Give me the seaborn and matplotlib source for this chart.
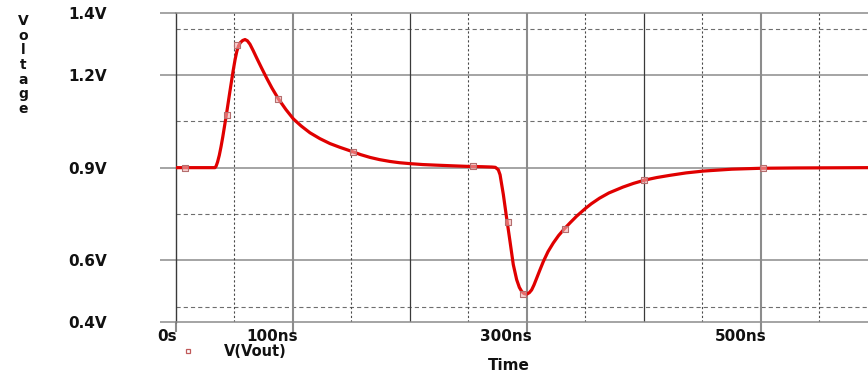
import matplotlib
matplotlib.use("Agg")
import matplotlib.pyplot as plt
from matplotlib.lines import Line2D
from matplotlib.transforms import ScaledTranslation
import pandas as pd
import seaborn as sns

# Transient response of V(Vout)
time_ns = [0, 7, 20, 33.3, 34.3, 35.5, 37, 38.5, 40, 41.5, 43, 46, 48.9, 50.5,
           52, 53.5, 55, 57, 59, 61, 63.2, 66, 69, 73, 77.5, 82, 87.5, 94,
           100.3, 107, 114.5, 123, 131.6, 140, 150, 158, 166, 174, 183, 191,
           200, 211, 223, 236, 250, 262, 270, 273, 275.5, 277, 279.8, 282.6,
           285.5, 288.3, 291.2, 293.5, 295.5, 297.5, 299.7, 302, 304, 306,
           308.3, 311, 314, 318, 322.5, 327, 332, 337, 342.5, 350, 355, 362,
           370, 382, 391, 401, 411, 422, 436, 451, 475, 500, 530, 592]
vout = [0.9, 0.9, 0.9, 0.9, 0.905, 0.918, 0.94, 0.968, 1.0, 1.035, 1.07, 1.145,
        1.215, 1.25, 1.277, 1.295, 1.305, 1.312, 1.315, 1.311, 1.3, 1.279,
        1.255, 1.224, 1.19, 1.158, 1.123, 1.088, 1.058, 1.035, 1.013, 0.994,
        0.978, 0.966, 0.953, 0.942, 0.933, 0.926, 0.92, 0.916, 0.913, 0.91,
        0.908, 0.906, 0.904, 0.903, 0.902, 0.901, 0.893, 0.877, 0.813, 0.737,
        0.661, 0.586, 0.537, 0.512, 0.499, 0.492, 0.49, 0.495, 0.504, 0.52,
        0.542, 0.568, 0.596, 0.628, 0.656, 0.68, 0.702, 0.722, 0.743, 0.768,
        0.783, 0.801, 0.818, 0.837, 0.849, 0.86, 0.868, 0.875, 0.883, 0.889,
        0.895, 0.898, 0.899, 0.9]

# Sample markers placed along the trace
marker_time_ns = [7.7, 43.3, 52.5, 87.5, 151.5, 254, 284.1, 297, 332.5, 400, 502]
marker_vout = [0.9, 1.07, 1.296, 1.121, 0.952, 0.904, 0.725, 0.49, 0.701, 0.861, 0.899]

x_tick_values = [0, 100, 300, 500]
x_tick_labels = ["0s", "100ns", "300ns", "500ns"]
y_tick_values = [0.4, 0.6, 0.9, 1.2, 1.4]
y_tick_labels = ["0.4V", "0.6V", "0.9V", "1.2V", "1.4V"]
y_grid_major = [0.6, 0.9, 1.2]
y_grid_minor = [0.45, 0.75, 1.05, 1.35]
x_grid_gray = [100, 300, 500]
x_grid_dark = [200, 400]
x_grid_dotted = [50, 150, 250, 350, 450, 550]

sns.set_style("white")
plt.rcParams["font.family"] = ["DejaVu Sans"]
plt.rcParams["lines.scale_dashes"] = False

W, H = 868, 372
fig = plt.figure(figsize=(W / 100, H / 100), dpi=100)
ax = fig.add_axes([176 / W, 1 - 322 / H, (W - 176) / W, (322 - 13.3) / H])
ax.set_xlim(0, 591.5)
ax.set_ylim(0.4, 1.4)

grid_gray = "#8c8c8c"
for y in y_grid_major:
    ax.axhline(y, color=grid_gray, lw=1.1, zorder=1)
for y in y_grid_minor:
    ax.axhline(y, color="#6e6e6e", lw=0.8, ls=(0, (3.0, 2.2)), zorder=1)
for x in x_grid_gray:
    ax.axvline(x, color=grid_gray, lw=1.5, zorder=1)
for x in x_grid_dark:
    ax.axvline(x, color="#3a3a3a", lw=0.9, zorder=1)
for x in x_grid_dotted:
    ax.axvline(x, color="#4a4a4a", lw=0.8, ls=(0, (1.6, 1.6)), zorder=1)

trace = pd.DataFrame({"time": time_ns, "vout": vout})
sns.lineplot(data=trace, x="time", y="vout", sort=False, color="#e00000",
             lw=2.3, ax=ax, zorder=3, solid_joinstyle="round",
             solid_capstyle="round")
sns.scatterplot(x=marker_time_ns, y=marker_vout, marker="s", s=18,
                facecolor=(0.95, 0.7, 0.7, 0.6), edgecolor="#b46e6e",
                linewidth=0.8, ax=ax, zorder=4)

ax.set_xlabel("")
ax.set_ylabel("")

for side in ("top", "bottom"):
    ax.spines[side].set_color(grid_gray)
    ax.spines[side].set_linewidth(1.1)
ax.spines["left"].set_color("#3a3a3a")
ax.spines["left"].set_linewidth(1.0)
ax.spines["right"].set_visible(False)

ax.set_yticks(y_tick_values)
ax.set_yticklabels(y_tick_labels)
ax.tick_params(axis="y", direction="out", length=11.5, width=1.1,
               color=grid_gray, pad=38, labelsize=11, left=True)
ax.set_xticks(x_tick_values)
ax.set_xticklabels(x_tick_labels)
ax.tick_params(axis="x", direction="out", length=7.2, width=1.5,
               color=grid_gray, pad=-2.5, labelsize=11, bottom=True)
for lbl in ax.get_yticklabels() + ax.get_xticklabels():
    lbl.set_fontweight("bold")
    lbl.set_color("#111111")
# x labels sit flush right against their tick
x_label_shift_px = [1, 5, 5, 6]
for lbl, dx in zip(ax.get_xticklabels(), x_label_shift_px):
    lbl.set_ha("right")
    lbl.set_transform(lbl.get_transform()
                      + ScaledTranslation(dx / 100, 0, fig.dpi_scale_trans))

# Axis titles and trace key
fig.text(509 / W, 1 - 365 / H, "Time", ha="center", va="center",
         fontsize=11, fontweight="bold", color="#111111")
fig.text(23 / W, 1 - 14 / H, "\n".join("Voltage"), ha="center", va="top",
         fontsize=10, fontweight="bold", linespacing=1.06, color="#111111")
fig.add_artist(Line2D([188 / W], [1 - 351 / H], marker="s", ms=3.5,
                      mfc="none", mec="#c05a5a", mew=0.9, ls="none"))
fig.text(224 / W, 1 - 351.5 / H, "V(Vout)", ha="left", va="center",
         fontsize=10.5, fontweight="bold", color="#111111")

fig.savefig("out.png", dpi=100)
